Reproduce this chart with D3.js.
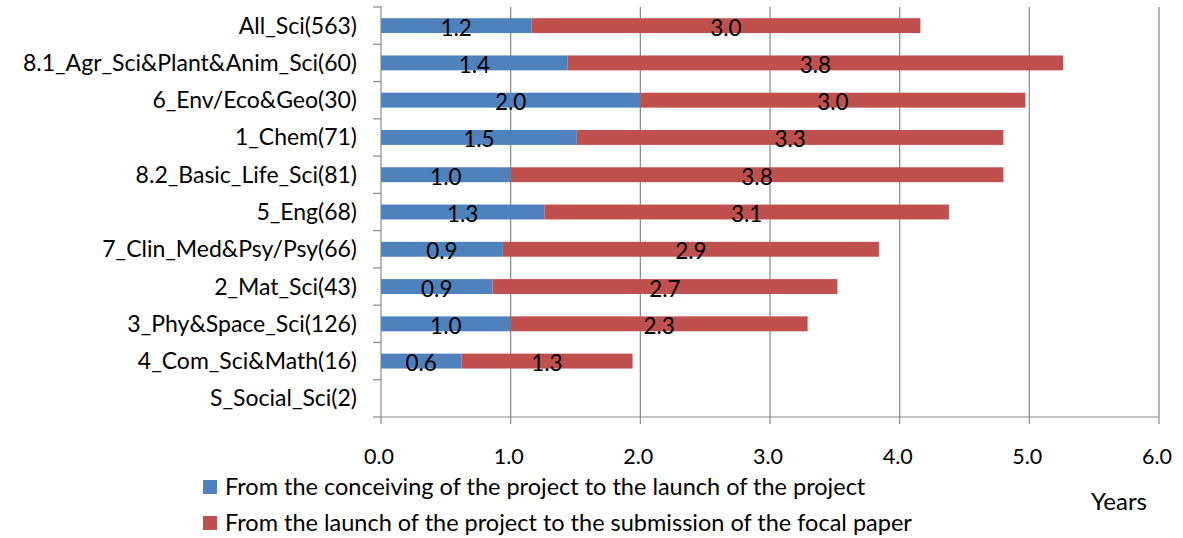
<!DOCTYPE html>
<html>
<head>
<meta charset="utf-8">
<script src="https://cdn.jsdelivr.net/npm/d3@7"></script>
<style>
  html, body { margin: 0; padding: 0; background: #fff; }
  svg { display: block; }
  text { font-family: Lato, "Open Sans", sans-serif; fill: #000; }
</style>
</head>
<body>
<svg id="chart" width="1183" height="538"></svg>
<script>
const categories = [
  "All_Sci(563)",
  "8.1_Agr_Sci&Plant&Anim_Sci(60)",
  "6_Env/Eco&Geo(30)",
  "1_Chem(71)",
  "8.2_Basic_Life_Sci(81)",
  "5_Eng(68)",
  "7_Clin_Med&Psy/Psy(66)",
  "2_Mat_Sci(43)",
  "3_Phy&Space_Sci(126)",
  "4_Com_Sci&Math(16)",
  "S_Social_Sci(2)"
];
const conceiveToLaunch = [1.16, 1.44, 2.0, 1.51, 1.0, 1.26, 0.94, 0.86, 1.0, 0.62, null];
const launchToSubmission = [3.0, 3.82, 2.97, 3.29, 3.8, 3.12, 2.9, 2.66, 2.29, 1.32, null];
const seriesNames = [
  "From the conceiving of the project to the launch of the project",
  "From the launch of the project to the submission of the focal paper"
];
const seriesColors = ["#4F81BD", "#C0504D"];
const xTicks = [0, 1, 2, 3, 4, 5, 6];
const xTitle = "Years";

(function () {
const svg = d3.select("#chart");
const pl = 381, pr = 1159, pt = 7, pb = 417;

const x = d3.scaleLinear().domain([0, 6]).range([pl, pr]);
const y = d3.scaleBand().domain(categories).range([pt, pb]).paddingInner(0.6).paddingOuter(0.3);
const yb = d3.scaleBand().domain(categories).range([pt, pb]);

// gridlines
svg.append("g").selectAll("line").data(xTicks.filter(d => d > 0)).join("line")
  .attr("x1", d => x(d)).attr("x2", d => x(d))
  .attr("y1", pt).attr("y2", pb)
  .attr("stroke", "#888").attr("stroke-width", 1.2);

// bars
const rows = categories.map((c, i) => ({c, a: conceiveToLaunch[i], b: launchToSubmission[i]}));
const g = svg.append("g");
rows.filter(r => r.a != null).forEach(r => {
  g.append("rect").attr("x", x(0)).attr("y", y(r.c)).attr("width", x(r.a) - x(0)).attr("height", y.bandwidth()).attr("fill", seriesColors[0]);
  g.append("rect").attr("x", x(r.a)).attr("y", y(r.c)).attr("width", x(r.a + r.b) - x(r.a)).attr("height", y.bandwidth()).attr("fill", seriesColors[1]);
  g.append("text").attr("x", (x(0) + x(r.a)) / 2).attr("y", y(r.c) + y.bandwidth() / 2 + 10)
    .attr("text-anchor", "middle").attr("font-size", 22.5).text(r.a.toFixed(1));
  g.append("text").attr("x", (x(r.a) + x(r.a + r.b)) / 2).attr("y", y(r.c) + y.bandwidth() / 2 + 10)
    .attr("text-anchor", "middle").attr("font-size", 22.5).text(r.b.toFixed(1));
});

// y axis
const yAxis = svg.append("g");
yAxis.append("line").attr("x1", pl).attr("x2", pl).attr("y1", pt - 1).attr("y2", pb).attr("stroke", "#888").attr("stroke-width", 1.2);
const bounds = categories.map(c => yb(c)).concat([pb]);
yAxis.selectAll("line.t").data(bounds).join("line").attr("class", "t")
  .attr("x1", pl - 8).attr("x2", pl).attr("y1", d => d).attr("y2", d => d)
  .attr("stroke", "#888").attr("stroke-width", 1.2);
yAxis.selectAll("text").data(categories).join("text")
  .attr("x", 357).attr("y", d => yb(d) + yb.bandwidth() / 2 + 8)
  .attr("text-anchor", "end").attr("font-size", 23).text(d => d);

// x axis
const xAxis = svg.append("g");
xAxis.append("line").attr("x1", pl).attr("x2", pr).attr("y1", pb).attr("y2", pb).attr("stroke", "#888").attr("stroke-width", 1.2);
xAxis.selectAll("line.t").data(xTicks).join("line").attr("class", "t")
  .attr("x1", d => x(d)).attr("x2", d => x(d)).attr("y1", pb).attr("y2", pb + 7)
  .attr("stroke", "#888").attr("stroke-width", 1.2);
xAxis.selectAll("text").data(xTicks).join("text")
  .attr("x", d => x(d) - 2).attr("y", 464).attr("text-anchor", "middle").attr("font-size", 21.5)
  .text(d => d.toFixed(1));

svg.append("text").attr("x", 1119).attr("y", 510).attr("text-anchor", "middle").attr("font-size", 24).text(xTitle);

// legend
const leg = svg.append("g");
seriesNames.forEach((n, i) => {
  const yy = 480 + i * 36;
  leg.append("rect").attr("x", 203).attr("y", yy).attr("width", 14).attr("height", 14).attr("fill", seriesColors[i]);
  leg.append("text").attr("x", 225).attr("y", yy + 15).attr("font-size", 23.5).text(n);
});
})();
</script>
</body>
</html>
